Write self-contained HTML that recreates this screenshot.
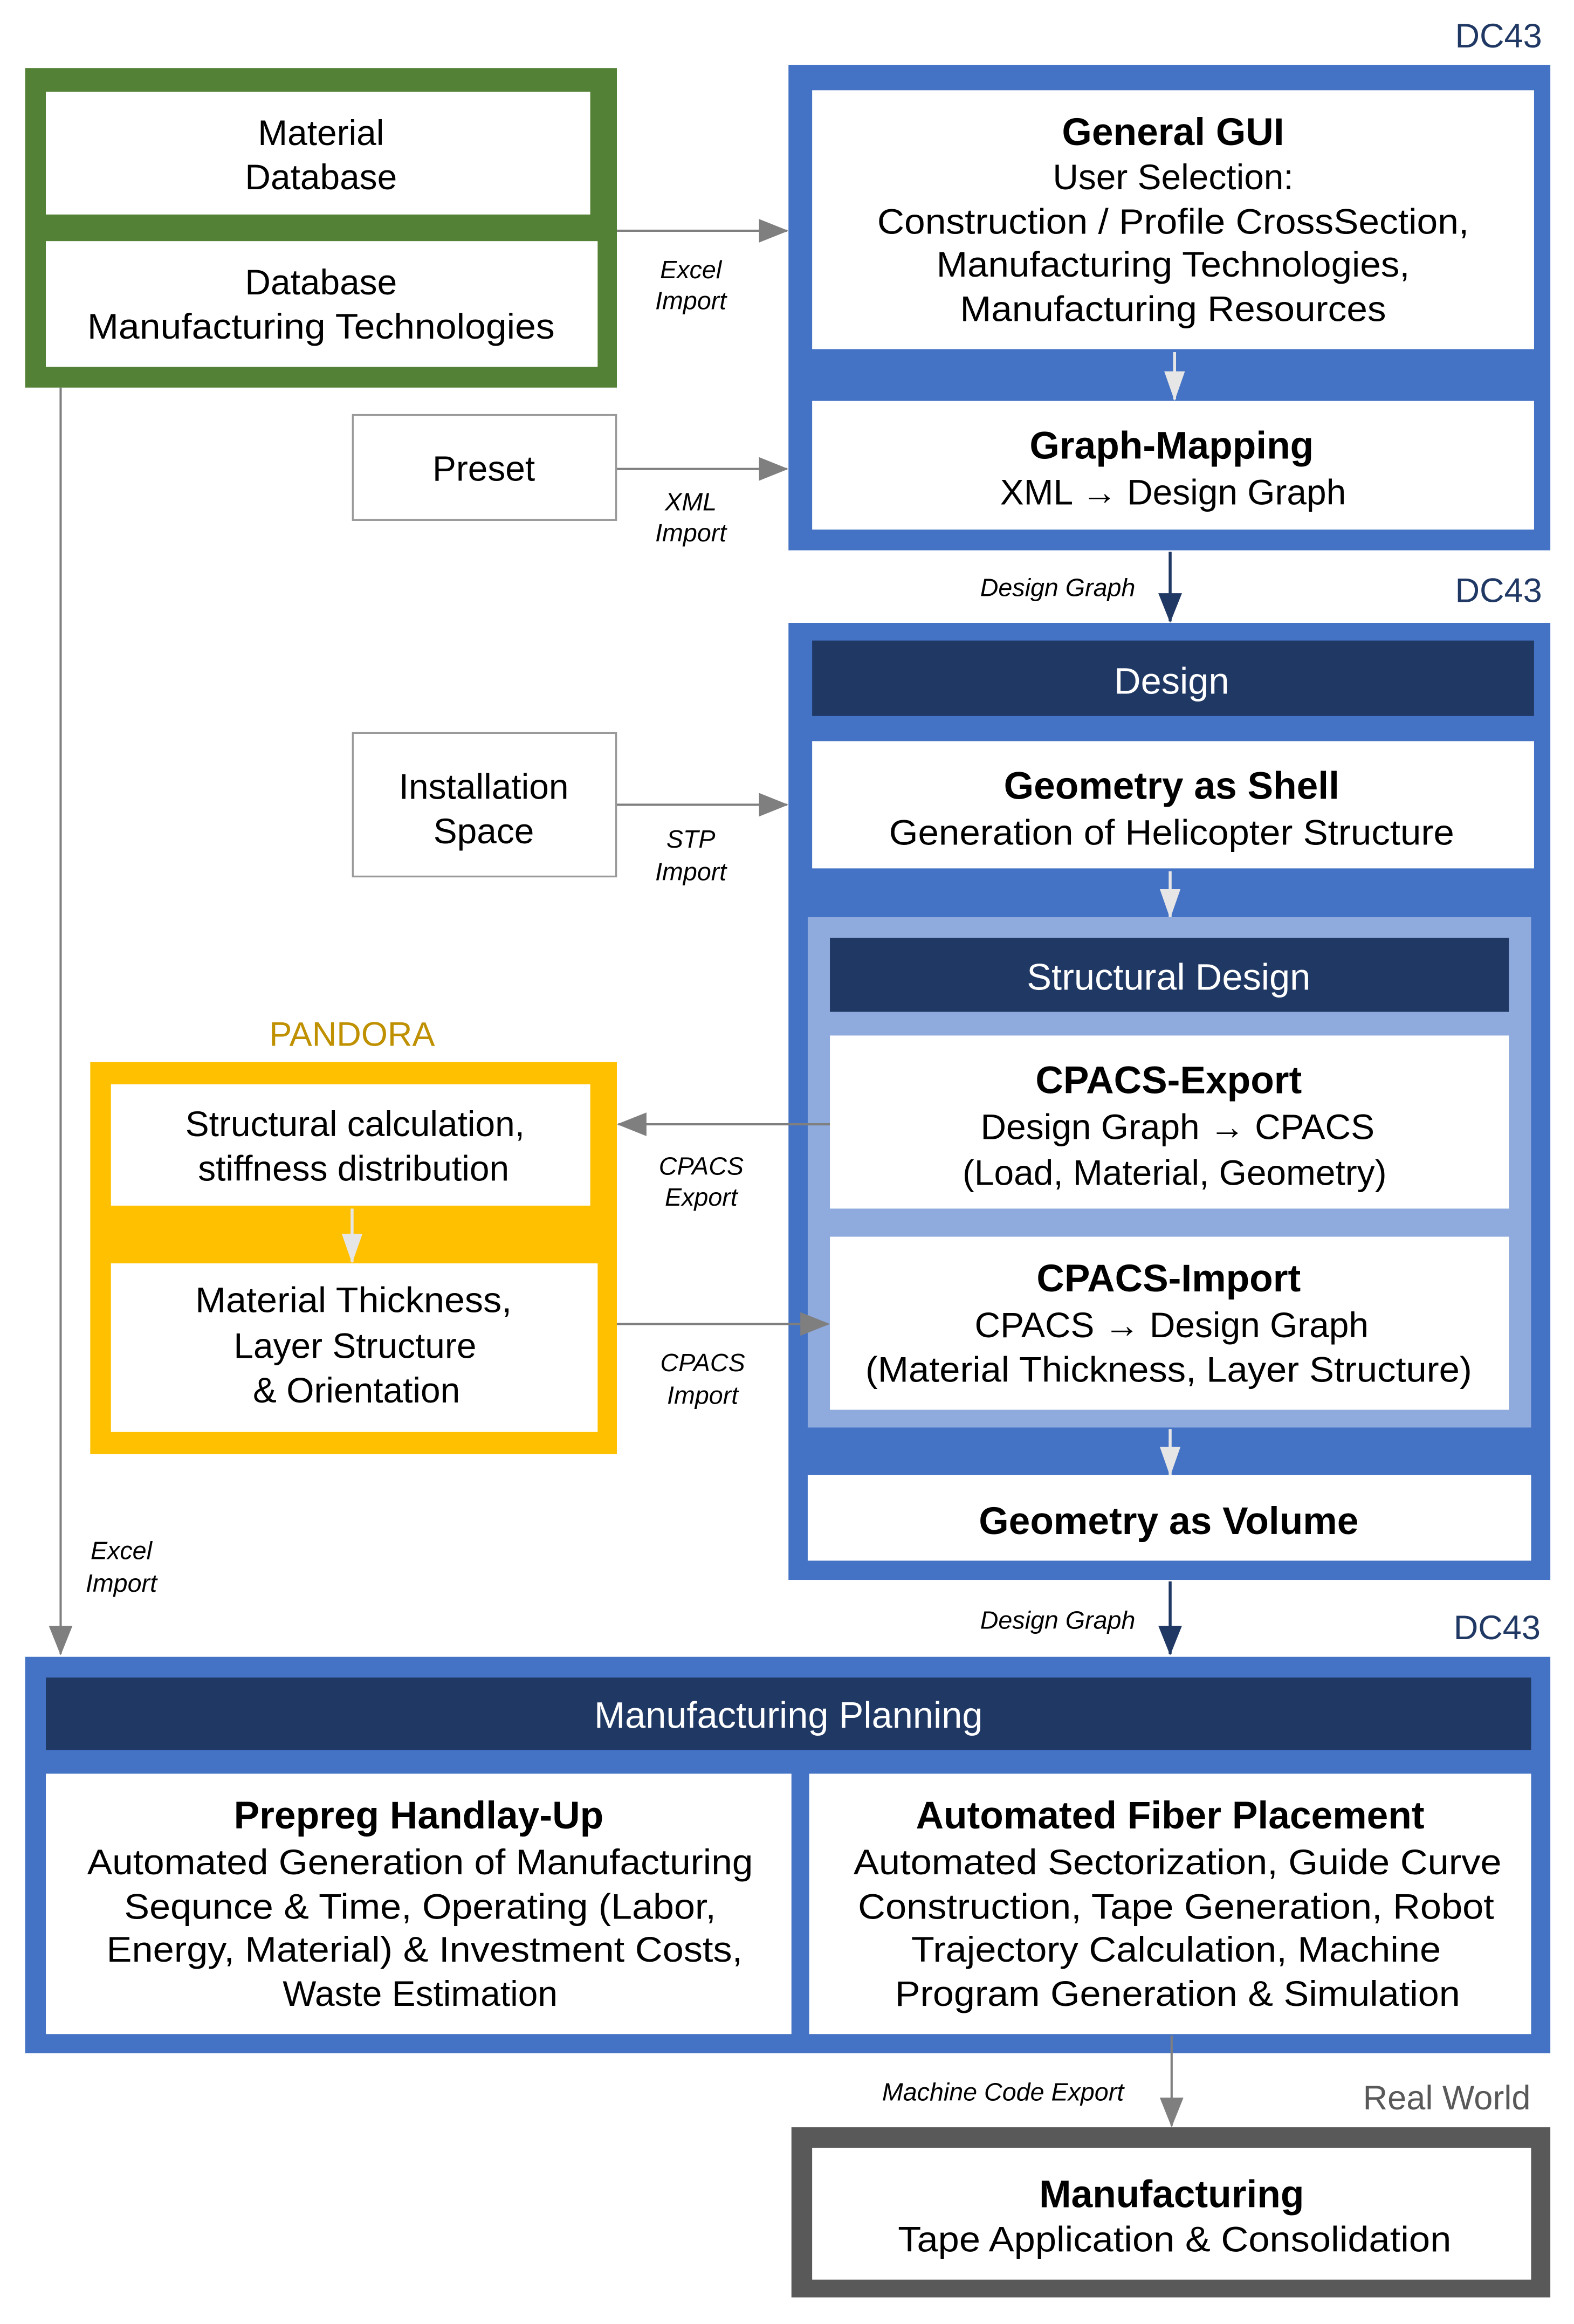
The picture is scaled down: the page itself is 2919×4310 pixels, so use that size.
<!DOCTYPE html>
<html><head><meta charset="utf-8"><style>html,body{margin:0;padding:0;background:#fff}svg{display:block}text{font-family:"Liberation Sans",sans-serif}</style></head><body>
<svg width="2919" height="4310" viewBox="0 0 1064 1571" preserveAspectRatio="none" xmlns="http://www.w3.org/2000/svg">
<defs>
<marker id="ag" markerWidth="10" markerHeight="10" refX="9" refY="5" orient="auto" markerUnits="userSpaceOnUse" viewBox="0 0 10 10"><path d="M0,0 L10,5 L0,10 z" fill="#7f7f7f"/></marker>
<marker id="agb" markerWidth="20" markerHeight="16" refX="19" refY="8" orient="auto" markerUnits="userSpaceOnUse"><path d="M0,0 L20,8 L0,16 z" fill="#7f7f7f"/></marker>
<marker id="an" markerWidth="20" markerHeight="16" refX="19" refY="8" orient="auto" markerUnits="userSpaceOnUse"><path d="M0,0 L20,8 L0,16 z" fill="#203864"/></marker>
<marker id="al" markerWidth="20" markerHeight="14" refX="19" refY="7" orient="auto" markerUnits="userSpaceOnUse"><path d="M0,0 L20,7 L0,14 z" fill="#e6e6e6"/></marker>
</defs>
<g font-size="24" text-anchor="middle">
<!-- green -->
<rect x="17" y="46" width="400" height="216" fill="#538135"/>
<rect x="31" y="62" width="368" height="83" fill="#fff"/>
<rect x="31" y="163" width="373" height="85" fill="#fff"/>
<text x="217" y="98">Material</text><text x="217" y="128">Database</text>
<text x="217" y="199">Database</text><text x="217" y="229" textLength="316" lengthAdjust="spacingAndGlyphs">Manufacturing Technologies</text>

<text x="1013" y="32" fill="#203864" font-size="23">DC43</text>
<rect x="533" y="44" width="515" height="328" fill="#4472c4"/>
<rect x="549" y="61" width="488" height="175" fill="#fff"/>
<rect x="549" y="271" width="488" height="87" fill="#fff"/>
<text x="793" y="98" font-weight="bold" font-size="26">General GUI</text>
<text x="793" y="128">User Selection:</text>
<text x="793" y="158" textLength="400" lengthAdjust="spacingAndGlyphs">Construction / Profile CrossSection,</text>
<text x="793" y="187" textLength="320" lengthAdjust="spacingAndGlyphs">Manufacturing Technologies,</text>
<text x="793" y="217" textLength="288" lengthAdjust="spacingAndGlyphs">Manufacturing Resources</text>
<line x1="794" y1="238" x2="794" y2="270" stroke="#e6e6e6" stroke-width="2" marker-end="url(#al)"/>
<text x="792" y="310" font-weight="bold" font-size="26">Graph-Mapping</text>
<text x="793" y="341">XML → Design Graph</text>

<line x1="417" y1="156" x2="532" y2="156" stroke="#7f7f7f" stroke-width="1.5" marker-end="url(#agb)"/>
<text x="467" y="188" font-style="italic" font-size="17">Excel</text><text x="467" y="209" font-style="italic" font-size="17">Import</text>
<rect x="238.5" y="280.5" width="178" height="71" fill="#fff" stroke="#999" stroke-width="1.2"/>
<text x="327" y="325">Preset</text>
<line x1="417" y1="317" x2="532" y2="317" stroke="#7f7f7f" stroke-width="1.5" marker-end="url(#agb)"/>
<text x="467" y="345" font-style="italic" font-size="17">XML</text><text x="467" y="366" font-style="italic" font-size="17">Import</text>

<line x1="791" y1="373" x2="791" y2="420" stroke="#203864" stroke-width="2" marker-end="url(#an)"/>
<text x="715" y="403" font-style="italic" font-size="17">Design Graph</text>
<text x="1013" y="407" fill="#203864" font-size="23">DC43</text>

<rect x="533" y="421" width="515" height="647" fill="#4472c4"/>
<rect x="549" y="433" width="488" height="51" fill="#203864"/>
<text x="792" y="469" fill="#fff" font-size="25">Design</text>
<rect x="549" y="501" width="488" height="86" fill="#fff"/>
<text x="792" y="540" font-weight="bold" font-size="26">Geometry as Shell</text>
<text x="792" y="571" textLength="382" lengthAdjust="spacingAndGlyphs">Generation of Helicopter Structure</text>
<line x1="791" y1="589" x2="791" y2="620" stroke="#e6e6e6" stroke-width="2" marker-end="url(#al)"/>
<rect x="546" y="620" width="489" height="345" fill="#8faadc"/>
<rect x="561" y="634" width="459" height="50" fill="#203864"/>
<text x="790" y="669" fill="#fff" font-size="25">Structural Design</text>
<rect x="561" y="700" width="459" height="117" fill="#fff"/>
<text x="790" y="739" font-weight="bold" font-size="26">CPACS-Export</text>
<text x="796" y="770">Design Graph → CPACS</text>
<text x="794" y="801">(Load, Material, Geometry)</text>
<rect x="561" y="836" width="459" height="117" fill="#fff"/>
<text x="790" y="873" font-weight="bold" font-size="26">CPACS-Import</text>
<text x="792" y="904">CPACS → Design Graph</text>
<text x="790" y="934" textLength="410" lengthAdjust="spacingAndGlyphs">(Material Thickness, Layer Structure)</text>
<line x1="791" y1="966" x2="791" y2="997" stroke="#e6e6e6" stroke-width="2" marker-end="url(#al)"/>
<rect x="546" y="997" width="489" height="58" fill="#fff"/>
<text x="790" y="1037" font-weight="bold" font-size="26">Geometry as Volume</text>

<rect x="238.5" y="495.5" width="178" height="97" fill="#fff" stroke="#999" stroke-width="1.2"/>
<text x="327" y="540">Installation</text><text x="327" y="570">Space</text>
<line x1="417" y1="544" x2="532" y2="544" stroke="#7f7f7f" stroke-width="1.5" marker-end="url(#agb)"/>
<text x="467" y="573" font-style="italic" font-size="17">STP</text><text x="467" y="595" font-style="italic" font-size="17">Import</text>

<text x="238" y="707" fill="#bf9000" font-size="23">PANDORA</text>
<rect x="61" y="718" width="356" height="265" fill="#ffc000"/>
<rect x="75" y="733" width="324" height="82" fill="#fff"/>
<rect x="75" y="854" width="329" height="114" fill="#fff"/>
<text x="240" y="768">Structural calculation,</text><text x="239" y="798">stiffness distribution</text>
<line x1="238" y1="817" x2="238" y2="853" stroke="#e6e6e6" stroke-width="2" marker-end="url(#al)"/>
<text x="239" y="887" textLength="214" lengthAdjust="spacingAndGlyphs">Material Thickness,</text><text x="240" y="918">Layer Structure</text><text x="241" y="948">&amp; Orientation</text>
<line x1="561" y1="760" x2="418" y2="760" stroke="#7f7f7f" stroke-width="1.5" marker-end="url(#agb)"/>
<text x="474" y="794" font-style="italic" font-size="17">CPACS</text><text x="474" y="815" font-style="italic" font-size="17">Export</text>
<line x1="417" y1="895" x2="560" y2="895" stroke="#7f7f7f" stroke-width="1.5" marker-end="url(#agb)"/>
<text x="475" y="927" font-style="italic" font-size="17">CPACS</text><text x="475" y="949" font-style="italic" font-size="17">Import</text>

<line x1="41" y1="262" x2="41" y2="1118" stroke="#7f7f7f" stroke-width="1.5" marker-end="url(#agb)"/>
<text x="82" y="1054" font-style="italic" font-size="17">Excel</text><text x="82" y="1076" font-style="italic" font-size="17">Import</text>

<line x1="791" y1="1069" x2="791" y2="1118" stroke="#203864" stroke-width="2" marker-end="url(#an)"/>
<text x="715" y="1101" font-style="italic" font-size="17">Design Graph</text>
<text x="1012" y="1108" fill="#203864" font-size="23">DC43</text>

<rect x="17" y="1120" width="1031" height="268" fill="#4472c4"/>
<rect x="31" y="1134" width="1004" height="49" fill="#203864"/>
<text x="533" y="1168" fill="#fff" font-size="25">Manufacturing Planning</text>
<rect x="31" y="1199" width="504" height="176" fill="#fff"/>
<rect x="547" y="1199" width="488" height="176" fill="#fff"/>
<text x="283" y="1236" font-weight="bold" font-size="26">Prepreg Handlay-Up</text>
<text x="284" y="1267" textLength="450" lengthAdjust="spacingAndGlyphs">Automated Generation of Manufacturing</text>
<text x="284" y="1297" textLength="400" lengthAdjust="spacingAndGlyphs">Sequnce &amp; Time, Operating (Labor,</text>
<text x="287" y="1326" textLength="430" lengthAdjust="spacingAndGlyphs">Energy, Material) &amp; Investment Costs,</text>
<text x="284" y="1356">Waste Estimation</text>
<text x="791" y="1236" font-weight="bold" font-size="26">Automated Fiber Placement</text>
<text x="796" y="1267" textLength="438" lengthAdjust="spacingAndGlyphs">Automated Sectorization, Guide Curve</text>
<text x="795" y="1297" textLength="430" lengthAdjust="spacingAndGlyphs">Construction, Tape Generation, Robot</text>
<text x="795" y="1326" textLength="358" lengthAdjust="spacingAndGlyphs">Trajectory Calculation, Machine</text>
<text x="796" y="1356" textLength="382" lengthAdjust="spacingAndGlyphs">Program Generation &amp; Simulation</text>

<line x1="792" y1="1376" x2="792" y2="1437" stroke="#7f7f7f" stroke-width="1.5" marker-end="url(#agb)"/>
<text x="678" y="1420" font-style="italic" font-size="17">Machine Code Export</text>
<text x="978" y="1426" fill="#595959" font-size="23">Real World</text>
<rect x="535" y="1438" width="513" height="115" fill="#595959"/>
<rect x="549" y="1452" width="486" height="89" fill="#fff"/>
<text x="792" y="1492" font-weight="bold" font-size="26">Manufacturing</text>
<text x="794" y="1522" textLength="374" lengthAdjust="spacingAndGlyphs">Tape Application &amp; Consolidation</text>
</g>
</svg>
</body></html>
